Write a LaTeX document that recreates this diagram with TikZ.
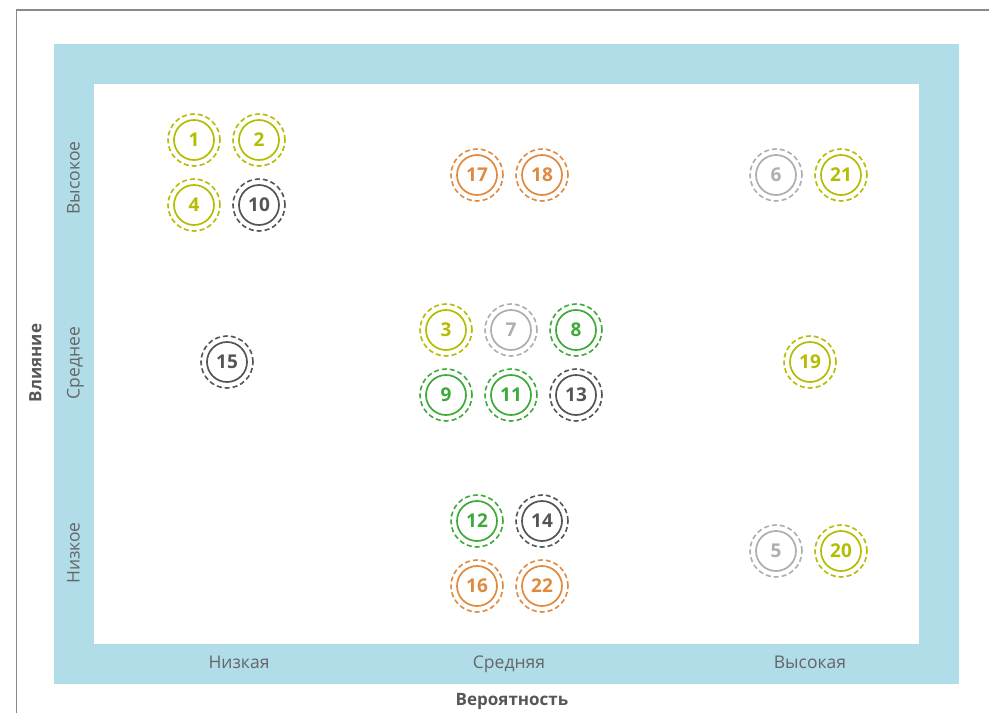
\documentclass[tikz,border=0pt]{standalone}
\usepackage{fontspec}
\setmainfont{Open Sans}
\definecolor{ybg}{HTML}{B0DDE8}
\definecolor{cy}{HTML}{B5BD00}
\definecolor{cg}{HTML}{3DAA3A}
\definecolor{co}{HTML}{E08A3F}
\definecolor{cl}{HTML}{AEAEAE}
\definecolor{cd}{HTML}{555555}
\definecolor{tx}{HTML}{666666}
\definecolor{fr}{HTML}{8A8A8A}
\tikzset{
  risk/.style={circle, draw=#1, line width=1.7pt, minimum size=40pt, inner sep=0pt,
    text=#1, font=\fontsize{19}{21}\selectfont\bfseries,
    append after command={\pgfextra{\draw[#1, line width=1.6pt, dash pattern=on 5pt off 3pt]
      (\tikzlastnode.center) circle (26pt);}}},
  axlab/.style={text=tx, font=\fontsize{17.5}{20}\selectfont, text height=12pt, text depth=3pt, inner sep=0pt},
  axtitle/.style={text=tx!85!black, font=\fontsize{17}{20}\selectfont\bfseries, text height=12pt, text depth=3pt, inner sep=0pt}
}
\begin{document}
\begin{tikzpicture}[x=1pt,y=-1pt]
\useasboundingbox (0,0) rectangle (989,713);
\draw[fr, line width=1.5pt] (16.5,713) -- (16.5,10) -- (989,10);
\fill[ybg] (54,44) rectangle (959,684);
\fill[white] (94,84) rectangle (919,644);
% axis labels
\node[axlab] (xl) at (239,664) {Низкая};
\node[axlab] (xm) at (509,664) {Средняя};
\node[axlab] (xh) at (810,664) {Высокая};
\node[axtitle] (xt) at (512,701) {Вероятность};
\node[axlab, rotate=90] (yh) at (75,178) {Высокое};
\node[axlab, rotate=90] (ym) at (75,363) {Среднее};
\node[axlab, rotate=90] (yl) at (75,553) {Низкое};
\node[axtitle, rotate=90] (yt) at (37,363) {Влияние};
% risks
\node[risk=cy] (r1) at (194,140) {1};
\node[risk=cy] (r2) at (259,140) {2};
\node[risk=cy] (r4) at (194,205) {4};
\node[risk=cd] (r10) at (259,205) {10};
\node[risk=co] (r17) at (477,175) {17};
\node[risk=co] (r18) at (542,175) {18};
\node[risk=cl] (r6) at (776,175) {6};
\node[risk=cy] (r21) at (841,175) {21};
\node[risk=cd] (r15) at (227,362) {15};
\node[risk=cy] (r3) at (446,330) {3};
\node[risk=cl] (r7) at (511,330) {7};
\node[risk=cg] (r8) at (576,330) {8};
\node[risk=cg] (r9) at (446,395) {9};
\node[risk=cg] (r11) at (511,395) {11};
\node[risk=cd] (r13) at (576,395) {13};
\node[risk=cy] (r19) at (810,362) {19};
\node[risk=cg] (r12) at (477,521) {12};
\node[risk=cd] (r14) at (542,521) {14};
\node[risk=co] (r16) at (477,586) {16};
\node[risk=co] (r22) at (542,586) {22};
\node[risk=cl] (r5) at (776,551) {5};
\node[risk=cy] (r20) at (841,551) {20};
\end{tikzpicture}
\end{document}
